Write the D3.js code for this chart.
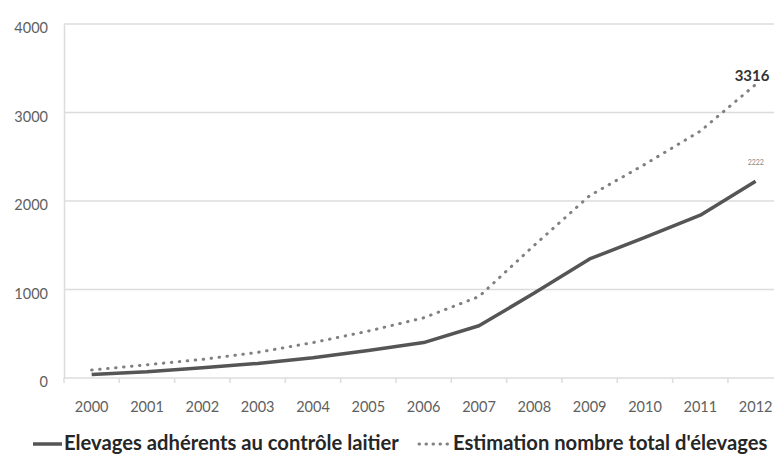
<!DOCTYPE html>
<html><head><meta charset="utf-8">
<script src="https://cdn.jsdelivr.net/npm/d3@7"></script>
<style>
html,body{margin:0;padding:0;background:#fff;}
svg{display:block;}
</style></head>
<body>
<svg id="chart" width="774" height="455"></svg>
<script>
const years = ["2000","2001","2002","2003","2004","2005","2006","2007","2008","2009","2010","2011","2012"];
const adherents = [40, 70, 115, 165, 230, 310, 400, 590, 960, 1345, 1590, 1840, 2222];
const estimation = [90, 150, 210, 290, 400, 530, 680, 920, 1500, 2060, 2415, 2790, 3316];
const yTicks = [0, 1000, 2000, 3000, 4000];
const seriesNames = ["Elevages adhérents au contrôle laitier", "Estimation nombre total d'élevages"];
const labelAdherents = "2222";
const labelEstimation = "3316";

(function () {
const svg = d3.select("#chart");
const font = "Lato, 'Open Sans', sans-serif";
const mLeft = 64, mTop = 24, mBottom = 378;
const band = 55.33;
const x = d3.scaleBand().domain(years).range([mLeft, mLeft + band * years.length]).padding(0);
const y = d3.scaleLinear().domain([0, 4000]).range([mBottom, mTop]);
const cx = d => x(d) + x.bandwidth() / 2;

// gridlines
svg.append("g").selectAll("line").data(yTicks).join("line")
  .attr("x1", mLeft).attr("x2", 774)
  .attr("y1", d => y(d)).attr("y2", d => y(d))
  .attr("stroke", "#dcdcdc").attr("stroke-width", 1.5);

// y axis
const yAxis = d3.axisLeft(y).tickValues(yTicks).tickSize(0).tickPadding(16).tickFormat(d3.format("d"));
const gy = svg.append("g").attr("transform", `translate(${mLeft},0)`).call(yAxis);
gy.select(".domain").attr("stroke", "#dcdcdc").attr("stroke-width", 1.5);
gy.selectAll("text").attr("font-family", font).attr("font-size", 14.5).attr("fill", "#606060")
  .attr("dy", "0.6em");

// x axis
const xAxis = d3.axisBottom(x).tickSize(0).tickPadding(24);
const gx = svg.append("g").attr("transform", `translate(0,${mBottom})`).call(xAxis);
gx.select(".domain").remove();
gx.selectAll("text").attr("font-family", font).attr("font-size", 14.5).attr("fill", "#606060");
// boundary tick marks
svg.append("g").selectAll("line").data(years).join("line")
  .attr("x1", d => x(d)).attr("x2", d => x(d))
  .attr("y1", mBottom).attr("y2", mBottom + 5)
  .attr("stroke", "#dcdcdc").attr("stroke-width", 1.5);

const line = d3.line().x((d, i) => cx(years[i])).y(d => y(d)).curve(d3.curveLinear);

svg.append("path").datum(estimation).attr("d", line)
  .attr("fill", "none").attr("stroke", "#808080").attr("stroke-width", 3)
  .attr("stroke-linecap", "round").attr("stroke-dasharray", "0.5,7.5");

svg.append("path").datum(adherents).attr("d", line)
  .attr("fill", "none").attr("stroke", "#555555").attr("stroke-width", 3.5)
  .attr("stroke-linejoin", "round");

// data labels
svg.append("text").attr("x", cx("2012") - 21).attr("y", y(estimation[12]) - 4)
  .attr("font-family", font).attr("font-size", 15).attr("font-weight", "bold").attr("fill", "#333")
  .text(labelEstimation);
svg.append("text").attr("x", cx("2012") - 8).attr("y", y(adherents[12]) - 16)
  .attr("font-family", font).attr("font-size", 7).attr("fill", "#888")
  .text(labelAdherents);

// legend
const lg = svg.append("g");
lg.append("line").attr("x1", 33).attr("x2", 62).attr("y1", 444).attr("y2", 444)
  .attr("stroke", "#555555").attr("stroke-width", 3.5);
lg.append("text").attr("x", 64).attr("y", 450)
  .attr("font-family", font).attr("font-size", 20.2).attr("font-weight", "bold").attr("fill", "#262626")
  .text(seriesNames[0]);
lg.append("line").attr("x1", 419).attr("x2", 448).attr("y1", 444).attr("y2", 444)
  .attr("stroke", "#808080").attr("stroke-width", 3)
  .attr("stroke-linecap", "round").attr("stroke-dasharray", "0.5,6.5");
lg.append("text").attr("x", 453).attr("y", 450)
  .attr("font-family", font).attr("font-size", 20.2).attr("font-weight", "bold").attr("fill", "#262626")
  .text(seriesNames[1]);
})();
</script>
</body></html>
